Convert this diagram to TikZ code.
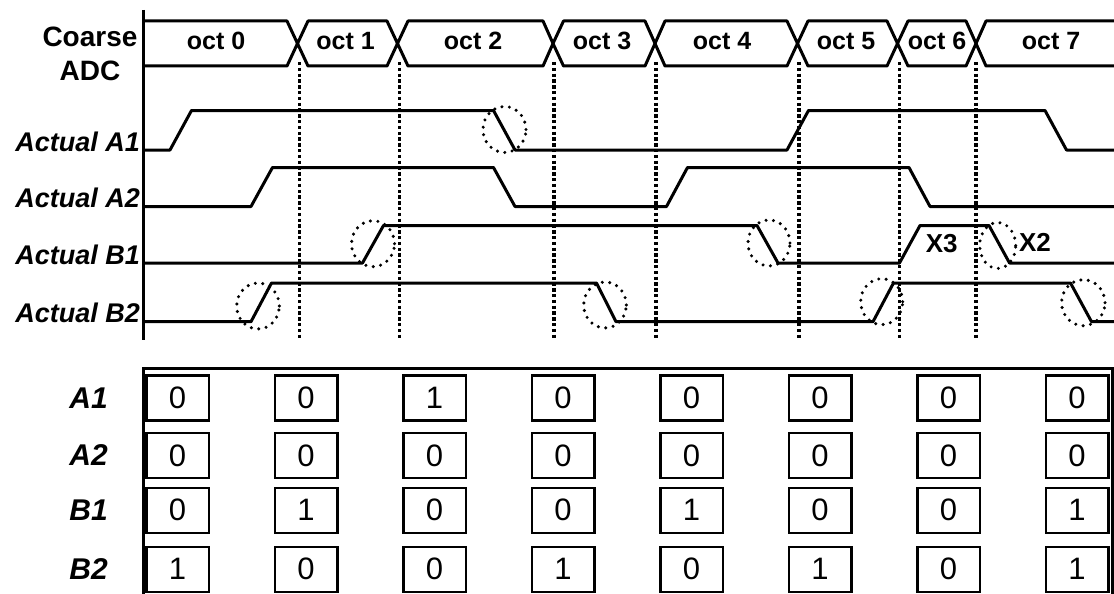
\documentclass[tikz,border=0pt]{standalone}
\usepackage{fontspec}
\setmainfont{Liberation Sans}
\begin{document}
\begin{tikzpicture}[x=1pt,y=-1pt,
  wave/.style={line width=3pt, line join=round},
  axisline/.style={line width=3pt},
  gridline/.style={line width=3.6pt, dash pattern=on 3.4pt off 2.4pt},
  halo/.style={line width=3.4pt, line cap=round, dash pattern=on 0pt off 7.5pt},
  siglbl/.style={font=\fontsize{27}{27}\selectfont\bfseries\itshape, anchor=base east, inner sep=0pt},
  rowlbl/.style={font=\fontsize{30}{30}\selectfont\bfseries\itshape, anchor=east, inner sep=0pt},
  octlbl/.style={font=\fontsize{25}{25}\selectfont\bfseries, anchor=base, inner sep=0pt},
  xlbl/.style={font=\fontsize{26}{26}\selectfont\bfseries, inner sep=0pt},
  bitbox/.style={draw, line width=2.5pt, minimum width=62.5pt, minimum height=45pt, inner sep=0pt, font=\fontsize{31}{31}\selectfont},
]
\useasboundingbox (0,0) rectangle (1114,594);

% ---------- signal names ----------
\node[font=\fontsize{28}{34}\selectfont\bfseries, align=center, inner sep=0pt] (adc) at (90,54) {Coarse\\ADC};
\node[siglbl] (la1) at (140,151) {Actual A1};
\node[siglbl] (la2) at (140,207.5) {Actual A2};
\node[siglbl] (lb1) at (140,264) {Actual B1};
\node[siglbl] (lb2) at (140,322.5) {Actual B2};

% ---------- time axis ----------
\draw[axisline] (143,10) -- (143,340);

% ---------- coarse ADC bus ----------
\draw[wave] (143,21) -- (287,21) -- (297.5,43.5) -- (308,21) -- (387,21) -- (397.5,43.5) -- (408,21)
  -- (543,21) -- (553,43.5) -- (563.5,21) -- (645,21) -- (655,43.5) -- (665,21)
  -- (787,21) -- (797.5,43.5) -- (808,21) -- (887,21) -- (897.5,43.5) -- (908,21)
  -- (966,21) -- (976,43.5) -- (986,21) -- (1114,21);
\draw[wave] (143,66) -- (287,66) -- (297.5,43.5) -- (308,66) -- (387,66) -- (397.5,43.5) -- (408,66)
  -- (543,66) -- (553,43.5) -- (563.5,66) -- (645,66) -- (655,43.5) -- (665,66)
  -- (787,66) -- (797.5,43.5) -- (808,66) -- (887,66) -- (897.5,43.5) -- (908,66)
  -- (966,66) -- (976,43.5) -- (986,66) -- (1114,66);

\node[octlbl] (o0) at (216,50) {oct 0};
\node[octlbl] (o1) at (345.5,50) {oct 1};
\node[octlbl] (o2) at (473,50) {oct 2};
\node[octlbl] (o3) at (602,50) {oct 3};
\node[octlbl] (o4) at (722,50) {oct 4};
\node[octlbl] (o5) at (846,50) {oct 5};
\node[octlbl] (o6) at (937,50) {oct 6};
\node[octlbl] (o7) at (1051,50) {oct 7};

% ---------- sampling instants ----------
\foreach \t in {299.5,399.5,554,656,799,899.5,976}
  \draw[gridline] (\t,62) -- (\t,338);

% ---------- comparator outputs ----------
\draw[wave] (143,150) -- (170,150) -- (191.5,110.5) -- (493.5,110.5) -- (515,150) -- (787,150)
  -- (808.5,110.5) -- (1045,110.5) -- (1066.5,150) -- (1114,150);
\draw[wave] (143,206.5) -- (251,206.5) -- (272.5,167.5) -- (493.5,167.5) -- (515,206.5) -- (666.5,206.5)
  -- (687.5,167.5) -- (909,167.5) -- (930,206.5) -- (1114,206.5);
\draw[wave] (143,263) -- (362.5,263) -- (383.5,225.5) -- (757,225.5) -- (778,263) -- (899.5,263)
  -- (920,225.5) -- (989,225.5) -- (1009.5,263) -- (1114,263);
\draw[wave] (143,321.7) -- (251,321.7) -- (271.5,283) -- (596.5,283) -- (616,321.7) -- (873,321.7)
  -- (893.5,283) -- (1070.5,283) -- (1091.5,321.7) -- (1114,321.7);

% ---------- marked edges ----------
\foreach \cx/\cy/\rx in {504.5/129.5/21.5, 373/243.7/21.5, 769/243/21, 997.7/245.5/18,
                         258/306/21.3, 605/305/21.3, 881.7/301.7/21, 1083.3/302.7/21.7}
  \draw[halo] (\cx,\cy) ellipse [x radius=\rx pt, y radius=23pt];

\node[xlbl] (x3) at (941.7,243.3) {X3};
\node[xlbl] (x2) at (1035,242.3) {X2};

% ---------- decoded bits ----------
\draw[axisline] (143,594) -- (143,368.5) -- (1112,368.5) -- (1112,594);

\node[rowlbl] (ra1) at (108,397.8) {A1};
\node[rowlbl] (ra2) at (108,455.5) {A2};
\node[rowlbl] (rb1) at (108,510.3) {B1};
\node[rowlbl] (rb2) at (108,569.3) {B2};

\foreach \r/\y/\bits in {1/397.8/{0,0,1,0,0,0,0,0},
                         2/455.5/{0,0,0,0,0,0,0,0},
                         3/510.3/{0,1,0,0,1,0,0,1},
                         4/569.3/{1,0,0,1,0,1,0,1}}
  \foreach \v [count=\c from 0] in \bits
    \node[bitbox] (bit-\r-\c) at (177.5+128.5*\c,\y) {\v};

\end{tikzpicture}
\end{document}
